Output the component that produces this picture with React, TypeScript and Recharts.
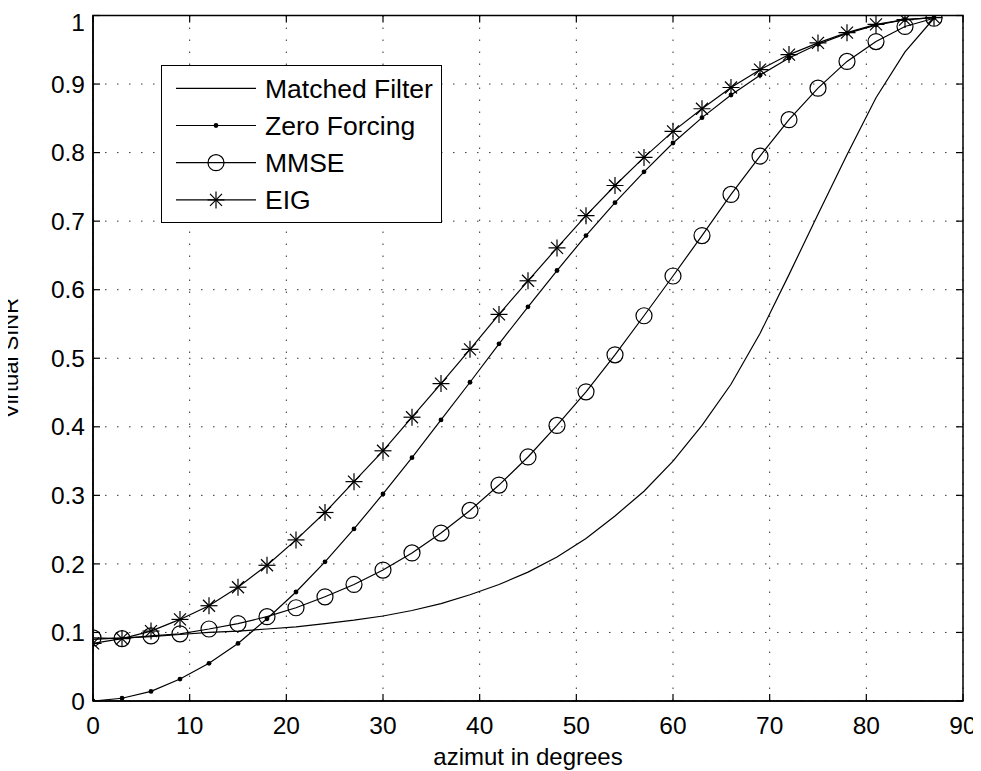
import React from 'react';
import { LineChart, Line, XAxis, YAxis, CartesianGrid, ReferenceLine, ReferenceArea, Label } from 'recharts';

// --- data (markers every 3 degrees) ---
const azimuth = [0, 3, 6, 9, 12, 15, 18, 21, 24, 27, 30, 33, 36, 39, 42, 45, 48, 51, 54, 57, 60, 63, 66, 69, 72, 75, 78, 81, 84, 87];

const matchedFilter = [0.090, 0.092, 0.094, 0.097, 0.100, 0.102, 0.105, 0.108, 0.113, 0.118, 0.124, 0.132, 0.142, 0.155, 0.170, 0.188, 0.210, 0.237, 0.270, 0.306, 0.350, 0.402, 0.462, 0.536, 0.622, 0.710, 0.797, 0.880, 0.947, 0.996];
const zeroForcing = [0.000, 0.004, 0.014, 0.032, 0.055, 0.084, 0.120, 0.159, 0.203, 0.251, 0.302, 0.355, 0.410, 0.465, 0.521, 0.575, 0.628, 0.679, 0.727, 0.772, 0.814, 0.851, 0.884, 0.913, 0.938, 0.958, 0.974, 0.986, 0.994, 0.997];
const mmse = [0.092, 0.091, 0.095, 0.098, 0.105, 0.113, 0.123, 0.136, 0.152, 0.170, 0.191, 0.216, 0.245, 0.278, 0.315, 0.356, 0.402, 0.451, 0.505, 0.562, 0.620, 0.679, 0.739, 0.795, 0.848, 0.894, 0.933, 0.962, 0.984, 0.996];
const eig = [0.084, 0.091, 0.102, 0.119, 0.139, 0.166, 0.198, 0.235, 0.275, 0.320, 0.365, 0.414, 0.463, 0.513, 0.564, 0.613, 0.661, 0.708, 0.752, 0.793, 0.831, 0.864, 0.895, 0.921, 0.943, 0.960, 0.975, 0.987, 0.994, 0.997];

const xTicks = [0, 10, 20, 30, 40, 50, 60, 70, 80, 90];
const yTicks = [0, 0.1, 0.2, 0.3, 0.4, 0.5, 0.6, 0.7, 0.8, 0.9, 1];
const yTickLabels = ['0', '0.1', '0.2', '0.3', '0.4', '0.5', '0.6', '0.7', '0.8', '0.9', '1'];

const seriesNames = ['Matched Filter', 'Zero Forcing', 'MMSE', 'EIG'];

const rows = azimuth.map((az, i) => ({
  az,
  mf: matchedFilter[i],
  zf: zeroForcing[i],
  mmse: mmse[i],
  eig: eig[i],
}));

// --- markers ---
const FONT = '"Liberation Sans", Arial, Helvetica, sans-serif';
const LW = 1.2;

const DotMarker = ({ cx, cy }: { cx: number; cy: number }) => <circle cx={cx} cy={cy} r={2.4} fill="#000" />;
const CircleMarker = ({ cx, cy }: { cx: number; cy: number }) => (
  <circle cx={cx} cy={cy} r={8} fill="none" stroke="#000" strokeWidth={LW} />
);
const StarMarker = ({ cx, cy }: { cx: number; cy: number }) => {
  const r = 8.5;
  const d = 6;
  return (
    <g stroke="#000" strokeWidth={LW}>
      <line x1={cx - r} y1={cy} x2={cx + r} y2={cy} />
      <line x1={cx} y1={cy - r} x2={cx} y2={cy + r} />
      <line x1={cx - d} y1={cy - d} x2={cx + d} y2={cy + d} />
      <line x1={cx - d} y1={cy + d} x2={cx + d} y2={cy - d} />
    </g>
  );
};

const markerFor = (name: string, cx: number, cy: number) => {
  if (name === 'Zero Forcing') return <DotMarker cx={cx} cy={cy} />;
  if (name === 'MMSE') return <CircleMarker cx={cx} cy={cy} />;
  if (name === 'EIG') return <StarMarker cx={cx} cy={cy} />;
  return null;
};

// legend box, MATLAB style, sits over the upper-left of the plot
const LegendBox = () => (
  <div
    style={{
      position: 'absolute',
      left: 153,
      top: 57,
      width: 281,
      height: 158,
      border: '1.5px solid #000',
      background: '#fff',
      boxSizing: 'border-box',
    }}
  >
    <svg width={281} height={158} style={{ position: 'absolute', left: -1.5, top: -1.5 }}>
      {seriesNames.map((name, i) => {
        const y = 23.3 + i * 37.2;
        return (
          <g key={name}>
            <line x1={15} y1={y} x2={95} y2={y} stroke="#000" strokeWidth={LW} />
            {markerFor(name, 55, y)}
            <text x={104} y={y} dy="0.35em" fontSize={26.5} fontFamily={FONT} fill="#000">
              {name}
            </text>
          </g>
        );
      })}
    </svg>
  </div>
);

// chart sits at (8, 8) on the page; the y title reaches into the body margin
const YTitle = (props: any) => {
  const vb = props.viewBox || { x: 0, y: 7.5, width: 85, height: 685.5 };
  const cx = 10.4;
  const cy = vb.y + vb.height / 2;
  return (
    <text x={cx} y={cy} transform={`rotate(-90 ${cx} ${cy})`} textAnchor="middle" fontSize={22} fontFamily={FONT} fill="#000">
      Virtual SINR
    </text>
  );
};

const XTitle = (props: any) => {
  const vb = props.viewBox || { x: 85, y: 693, width: 870, height: 70 };
  return (
    <text x={vb.x + vb.width / 2} y={vb.y + vb.height - 6} textAnchor="middle" fontSize={24} fontFamily={FONT} fill="#000">
      azimut in degrees
    </text>
  );
};

const tickLenX = 0.724;
const tickLenY = 0.0102;

export default function App() {
  return (
    <div style={{ position: 'relative', width: 973, height: 763, fontFamily: FONT, background: '#fff' }}>
      <style>{'.recharts-surface { overflow: visible; }'}</style>
      <LineChart width={973} height={763} data={rows} margin={{ top: 7.5, right: 18, left: 0, bottom: 0 }}>
        <CartesianGrid stroke="#333" strokeWidth={1} strokeDasharray="1.5 10.5" horizontalValues={yTicks} verticalValues={xTicks} />
        <XAxis
          dataKey="az"
          type="number"
          domain={[0, 90]}
          ticks={xTicks}
          allowDataOverflow
          height={70}
          tickSize={0}
          tickMargin={16}
          tickLine={false}
          axisLine={{ stroke: '#000', strokeWidth: 1.5 }}
          tick={{ fontSize: 24.5, fill: '#000', fontFamily: FONT }}
        >
          <Label content={<XTitle />} />
        </XAxis>
        <YAxis
          type="number"
          domain={[0, 1]}
          ticks={yTicks}
          allowDataOverflow
          width={85}
          tickSize={0}
          tickMargin={8}
          tickLine={false}
          tickFormatter={(v: number) => yTickLabels[yTicks.indexOf(v)] ?? String(v)}
          axisLine={{ stroke: '#000', strokeWidth: 1.5 }}
          tick={{ fontSize: 24.5, fill: '#000', fontFamily: FONT }}
        >
          <Label content={<YTitle />} />
        </YAxis>
        <ReferenceArea x1={0} x2={90} y1={0} y2={1} fill="none" stroke="#000" strokeWidth={1.5} />
        {xTicks.map((t) => (
          <ReferenceLine key={`bx${t}`} segment={[{ x: t, y: 0 }, { x: t, y: tickLenY }]} stroke="#000" strokeWidth={1.2} />
        ))}
        {xTicks.map((t) => (
          <ReferenceLine key={`tx${t}`} segment={[{ x: t, y: 1 }, { x: t, y: 1 - tickLenY }]} stroke="#000" strokeWidth={1.2} />
        ))}
        {yTicks.map((t) => (
          <ReferenceLine key={`ly${t}`} segment={[{ x: 0, y: t }, { x: tickLenX, y: t }]} stroke="#000" strokeWidth={1.2} />
        ))}
        {yTicks.map((t) => (
          <ReferenceLine key={`ry${t}`} segment={[{ x: 90, y: t }, { x: 90 - tickLenX, y: t }]} stroke="#000" strokeWidth={1.2} />
        ))}
        <Line dataKey="mf" name="Matched Filter" type="linear" stroke="#000" strokeWidth={LW} dot={false} isAnimationActive={false} />
        <Line
          dataKey="zf"
          name="Zero Forcing"
          type="linear"
          stroke="#000"
          strokeWidth={LW}
          dot={(p: any) => <DotMarker key={`zf${p.index}`} cx={p.cx} cy={p.cy} />}
          isAnimationActive={false}
        />
        <Line
          dataKey="mmse"
          name="MMSE"
          type="linear"
          stroke="#000"
          strokeWidth={LW}
          dot={(p: any) => <CircleMarker key={`mm${p.index}`} cx={p.cx} cy={p.cy} />}
          isAnimationActive={false}
        />
        <Line
          dataKey="eig"
          name="EIG"
          type="linear"
          stroke="#000"
          strokeWidth={LW}
          dot={(p: any) => <StarMarker key={`eg${p.index}`} cx={p.cx} cy={p.cy} />}
          isAnimationActive={false}
        />
      </LineChart>
      <LegendBox />
    </div>
  );
}
